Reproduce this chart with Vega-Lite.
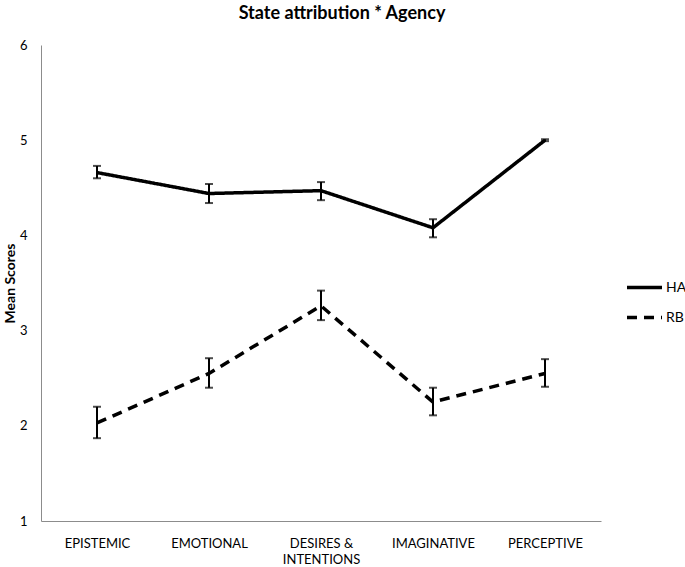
{
  "$schema": "https://vega.github.io/schema/vega-lite/v6.json",
  "width": 560,
  "height": 476,
  "autosize": {"type": "none"},
  "padding": {"left": 41, "top": 45, "right": 84, "bottom": 46},
  "background": "white",
  "title": {"text": "State attribution * Agency", "font": "Lato", "fontSize": 18, "fontWeight": "bold", "color": "black", "offset": 16, "dx": 21},
  "config": {
    "view": {"stroke": null},
    "font": "Lato",
    "axis": {"grid": false, "domainColor": "#8c8c8c", "domainWidth": 1, "labelFont": "Lato", "labelColor": "black", "labelFontSize": 13, "titleFont": "Lato"},
    "legend": {"labelFont": "Lato", "labelFontSize": 14, "labelColor": "black"}
  },
  "data": {"values": [
    {"category": "EPISTEMIC", "group": "HA", "mean": 4.66, "lo": 4.60, "hi": 4.73},
    {"category": "EMOTIONAL", "group": "HA", "mean": 4.44, "lo": 4.34, "hi": 4.54},
    {"category": "DESIRES & INTENTIONS", "group": "HA", "mean": 4.47, "lo": 4.37, "hi": 4.56},
    {"category": "IMAGINATIVE", "group": "HA", "mean": 4.08, "lo": 3.98, "hi": 4.17},
    {"category": "PERCEPTIVE", "group": "HA", "mean": 5.0, "lo": 4.99, "hi": 5.01},
    {"category": "EPISTEMIC", "group": "RB", "mean": 2.03, "lo": 1.87, "hi": 2.20},
    {"category": "EMOTIONAL", "group": "RB", "mean": 2.55, "lo": 2.40, "hi": 2.71},
    {"category": "DESIRES & INTENTIONS", "group": "RB", "mean": 3.26, "lo": 3.11, "hi": 3.42},
    {"category": "IMAGINATIVE", "group": "RB", "mean": 2.25, "lo": 2.11, "hi": 2.40},
    {"category": "PERCEPTIVE", "group": "RB", "mean": 2.55, "lo": 2.41, "hi": 2.70}
  ]},
  "encoding": {
    "x": {
      "field": "category", "type": "nominal",
      "sort": ["EPISTEMIC", "EMOTIONAL", "DESIRES & INTENTIONS", "IMAGINATIVE", "PERCEPTIVE"],
      "scale": {"type": "point", "padding": 0.5},
      "axis": {"title": null, "ticks": false, "labelAngle": 0, "labelPadding": 16, "labelLineHeight": 16,
        "labelExpr": "datum.value == 'DESIRES & INTENTIONS' ? ['DESIRES &', 'INTENTIONS'] : datum.value"}
    }
  },
  "layer": [
    {
      "mark": {"type": "line", "color": "black", "strokeWidth": 3.5},
      "encoding": {
        "y": {"field": "mean", "type": "quantitative", "scale": {"domain": [1, 6]},
          "axis": {"title": "Mean Scores", "titleFontSize": 14, "titleFontWeight": "bold", "titleColor": "black", "titlePadding": 2, "values": [1, 2, 3, 4, 5, 6], "format": "d", "ticks": false, "labelPadding": 14}},
        "strokeDash": {"field": "group", "type": "nominal",
          "scale": {"domain": ["HA", "RB"], "range": [[1, 0], [10, 7]]},
          "legend": {"title": null, "orient": "none", "legendX": 584, "legendY": 223, "symbolType": "stroke", "symbolSize": 1225, "symbolStrokeWidth": 3.5, "symbolStrokeColor": "black", "labelOffset": 2, "rowPadding": 3}}
      }
    },
    {
      "mark": {"type": "rule", "color": "black", "strokeWidth": 2},
      "encoding": {
        "y": {"field": "lo", "type": "quantitative"},
        "y2": {"field": "hi"},
        "detail": {"field": "group"}
      }
    },
    {
      "mark": {"type": "tick", "color": "black", "size": 8, "thickness": 2},
      "encoding": {"y": {"field": "lo", "type": "quantitative"}}
    },
    {
      "mark": {"type": "tick", "color": "black", "size": 8, "thickness": 2},
      "encoding": {"y": {"field": "hi", "type": "quantitative"}}
    }
  ]
}
